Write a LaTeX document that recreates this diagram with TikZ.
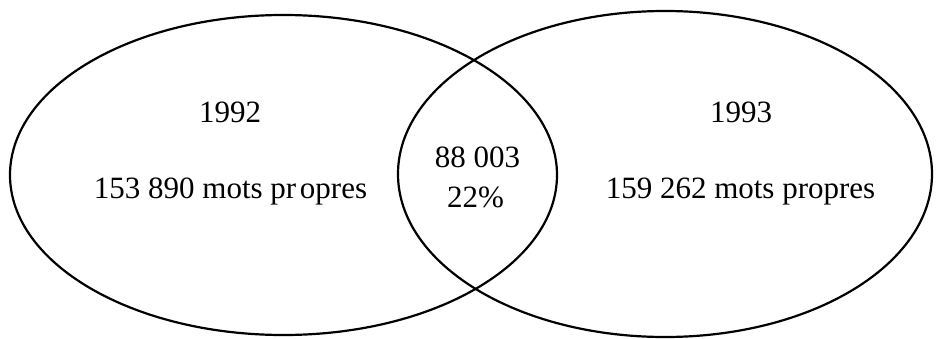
\documentclass[tikz,border=0pt]{standalone}
\usepackage{fontspec}
\setmainfont{Liberation Serif}
\begin{document}
\begin{tikzpicture}[x=1pt,y=1pt,
  setshape/.style={draw=black,line width=2.2pt},
  lbl/.style={anchor=base,inner sep=0pt,font=\fontsize{31}{37}\selectfont}]
\useasboundingbox (0,0) rectangle (936,338);
\draw[setshape] (283.5,163) ellipse [x radius=273.5, y radius=160];
\draw[setshape] (665,164) ellipse [x radius=267, y radius=163];
\node[lbl] (y1) at (230,215) {1992};
\node[lbl] (n1) at (230.5,140) {153 890 mots pr\hspace{0.12em}opres};
\node[lbl] (y2) at (741,215) {1993};
\node[lbl] (n2) at (740.5,140) {159 262 mots propres};
\node[lbl] (c1) at (477.5,170.3) {88 003};
\node[lbl] (c2) at (475.5,131) {22\%};
\end{tikzpicture}
\end{document}
